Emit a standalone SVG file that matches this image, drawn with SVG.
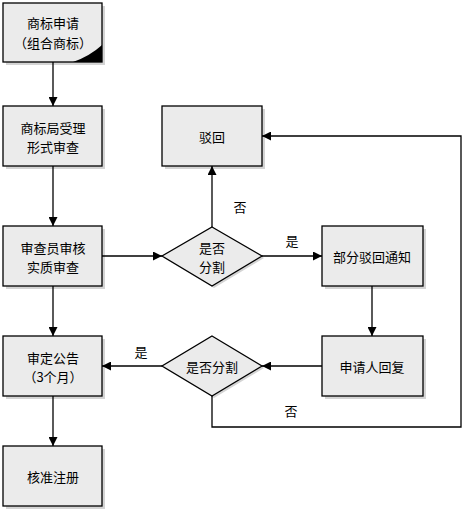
<svg xmlns="http://www.w3.org/2000/svg" width="471" height="510" viewBox="0 0 471 510">
<style>
.n{fill:#ebebeb;stroke:#000;stroke-width:1.3}
.sh{fill:#d4d4d4;stroke:none}
.t{font-family:"Noto Sans CJK SC","Noto Sans CJK TC",sans-serif;font-size:13px;fill:#000;text-anchor:middle;dominant-baseline:central}
.c{fill:none;stroke:#000;stroke-width:1.3}
</style>
<defs>
<marker id="a" viewBox="0 0 10 10" refX="10" refY="5" markerWidth="9" markerHeight="9" markerUnits="userSpaceOnUse" orient="auto">
<path d="M0,0 L10,5 L0,10 Z" fill="#000"/>
</marker>
</defs>
<rect width="471" height="510" fill="#fff"/>
<g id="n1"><rect class="sh" x="6" y="6" width="99" height="59"/><rect class="n" x="3" y="3" width="99" height="59"/><path d="M73,62 L102,62 L102,45 Q90,56 73,62 Z" fill="#000"/><text class="t" x="53" y="22">商标申请</text><text class="t" x="53" y="42">（组合商标）</text></g>
<g id="n2"><rect class="sh" x="6" y="109" width="99" height="60"/><rect class="n" x="3" y="106" width="99" height="60"/><text class="t" x="53" y="127">商标局受理</text><text class="t" x="53" y="146">形式审查</text></g>
<g id="n3"><rect class="sh" x="6" y="229" width="99" height="60"/><rect class="n" x="3" y="226" width="99" height="60"/><text class="t" x="53" y="247">审查员审核</text><text class="t" x="53" y="266">实质审查</text></g>
<g id="n4"><rect class="sh" x="6" y="339" width="99" height="60"/><rect class="n" x="3" y="336" width="99" height="60"/><text class="t" x="53" y="357">审定公告</text><text class="t" x="53" y="376">（3个月）</text></g>
<g id="n5"><rect class="sh" x="6" y="449" width="99" height="60"/><rect class="n" x="3" y="446" width="99" height="60"/><text class="t" x="53" y="476">核准注册</text></g>
<g id="n6"><rect class="sh" x="165" y="109" width="100" height="60"/><rect class="n" x="162" y="106" width="100" height="60"/><text class="t" x="212" y="136">驳回</text></g>
<g id="d1"><path class="sh" d="M214,229 L264,258 L214,288 L164,258 Z"/><path class="n" d="M212,227 L262,256 L212,286 L162,256 Z"/><text class="t" x="212" y="247">是否</text><text class="t" x="212" y="266">分割</text></g>
<g id="n7"><rect class="sh" x="325" y="229" width="101" height="60"/><rect class="n" x="322" y="226" width="101" height="60"/><text class="t" x="372" y="256">部分驳回通知</text></g>
<g id="n8"><rect class="sh" x="325" y="339" width="101" height="60"/><rect class="n" x="322" y="336" width="101" height="60"/><text class="t" x="372" y="366">申请人回复</text></g>
<g id="d2"><path class="sh" d="M214,339 L264,368 L214,398 L164,368 Z"/><path class="n" d="M212,336 L262,366 L212,396 L162,366 Z"/><text class="t" x="212" y="366">是否分割</text></g>
<g id="connectors">
<path class="c" d="M53,62 L53,106" marker-end="url(#a)"/>
<path class="c" d="M53,166 L53,226" marker-end="url(#a)"/>
<path class="c" d="M53,286 L53,336" marker-end="url(#a)"/>
<path class="c" d="M53,396 L53,446" marker-end="url(#a)"/>
<path class="c" d="M102,256 L162,256" marker-end="url(#a)"/>
<path class="c" d="M262,256 L322,256" marker-end="url(#a)"/>
<path class="c" d="M212,227 L212,166" marker-end="url(#a)"/>
<path class="c" d="M372,286 L372,336" marker-end="url(#a)"/>
<path class="c" d="M322,366 L262,366" marker-end="url(#a)"/>
<path class="c" d="M162,366 L102,366" marker-end="url(#a)"/>
<path class="c" d="M212,396 L212,427 L461,427 L461,136 L262,136" marker-end="url(#a)"/>
<text class="t" x="240" y="206">否</text>
<text class="t" x="292" y="240">是</text>
<text class="t" x="141" y="351">是</text>
<text class="t" x="291" y="410">否</text>
</g>
</svg>
